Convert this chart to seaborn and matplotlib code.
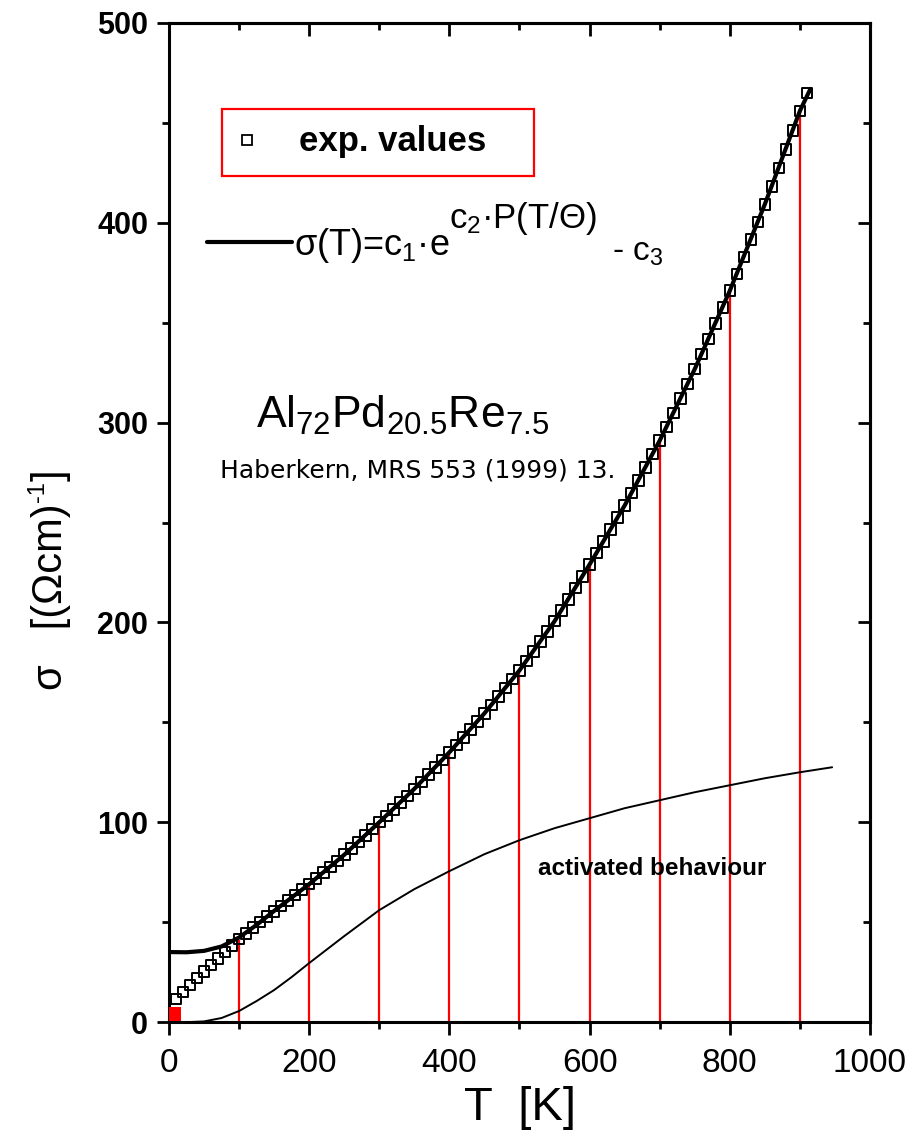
import numpy as np
import pandas as pd
import matplotlib
matplotlib.use("Agg")
import matplotlib.pyplot as plt
import seaborn as sns
from matplotlib.ticker import MultipleLocator
from matplotlib.patches import Rectangle
from matplotlib.lines import Line2D

# ---------------- data ----------------
T_exp = np.arange(10, 920, 10)
sigma_exp = [
    11.5, 15.0, 18.5, 22.0, 25.3, 28.6, 31.8, 35.0, 38.2, 41.5,
    44.4, 47.2, 50.0, 52.7, 55.4, 58.1, 60.8, 63.5, 66.2, 69.0,
    71.8, 74.7, 77.6, 80.6, 83.7, 86.8, 90.0, 93.3, 96.6, 100.0,
    103.2, 106.5, 109.8, 113.2, 116.7, 120.2, 123.8, 127.5, 131.2, 135.0,
    138.7, 142.5, 146.4, 150.4, 154.5, 158.7, 162.9, 167.2, 171.6, 176.0,
    180.6, 185.4, 190.3, 195.4, 200.6, 206.0, 211.6, 217.3, 223.1, 229.0,
    234.7, 240.5, 246.4, 252.4, 258.5, 264.7, 271.0, 277.5, 284.2, 291.0,
    297.9, 304.9, 312.1, 319.4, 326.8, 334.3, 341.9, 349.7, 357.7, 366.0,
    374.4, 382.9, 391.6, 400.4, 409.3, 418.3, 427.4, 436.7, 446.2, 456.0,
    465.0,
]

T_fit = [0, 25, 50, 75, 100, 125, 150, 200, 250, 300, 350, 400, 450, 500,
         550, 600, 650, 700, 750, 800, 850, 900, 915]
sigma_fit = [35.0, 34.9, 35.6, 37.8, 42.3, 48.6, 55.6, 69.0, 83.7, 100.0,
             116.7, 135.0, 154.5, 176.0, 200.6, 229.0, 258.5, 291.0, 326.8,
             366.0, 409.3, 456.0, 467.0]

T_act = [30, 50, 75, 100, 125, 150, 175, 200, 250, 300, 350, 400, 450, 500,
         550, 600, 650, 700, 750, 800, 850, 900, 946]
sigma_act = [0.0, 0.3, 2.0, 5.5, 10.5, 16.0, 22.5, 29.5, 43.0, 56.0, 66.5,
             75.5, 84.0, 91.0, 97.0, 102.0, 107.0, 111.0, 115.0, 118.5,
             122.0, 125.0, 127.5]

red_T = [100, 200, 300, 400, 500, 600, 700, 800, 900]
red_top = [41, 69, 100, 135, 176, 229, 291, 366, 456]

red_pt_T = [7]
red_pt_sigma = [4]

x_ticks = [0, 200, 400, 600, 800, 1000]
y_ticks = [0, 100, 200, 300, 400, 500]

# ---------------- style ----------------
sns.set_theme(style="ticks")
plt.rcParams["font.family"] = ["Liberation Sans", "DejaVu Sans"]
plt.rcParams["mathtext.fontset"] = "custom"
plt.rcParams["mathtext.rm"] = "Liberation Sans"
plt.rcParams["mathtext.it"] = "Liberation Sans"
plt.rcParams["mathtext.bf"] = "Liberation Sans:bold"
for key in ["text.color", "axes.labelcolor", "xtick.color", "ytick.color",
            "axes.edgecolor"]:
    plt.rcParams[key] = "black"

W, H = 912, 1137
fig = plt.figure(figsize=(W / 100, H / 100), dpi=100)
fig.patch.set_facecolor("white")

def fx(px):
    return px / W

def fy(py):
    return 1 - py / H

ax = fig.add_axes([fx(169), fy(1022), fx(870) - fx(169), fy(23) - fy(1022)])
ax.set_facecolor("white")

df_exp = pd.DataFrame({"T": T_exp, "sigma": sigma_exp})
df_fit = pd.DataFrame({"T": T_fit, "sigma": sigma_fit})
df_act = pd.DataFrame({"T": T_act, "sigma": sigma_act})

ax.vlines(red_T, 0, red_top, colors="#ff0000", linewidth=1.6, zorder=1)

sns.lineplot(data=df_act, x="T", y="sigma", ax=ax, color="black",
             linewidth=1.4, zorder=2, sort=False)
sns.scatterplot(data=df_exp, x="T", y="sigma", ax=ax, marker="s", s=58,
                facecolor="none", edgecolor="black", linewidth=1.4, zorder=3)
sns.lineplot(data=df_fit, x="T", y="sigma", ax=ax, color="black",
             linewidth=3.0, zorder=4, sort=False)
ax.scatter(red_pt_T, red_pt_sigma, marker="s", s=90, color="#ff0000",
           zorder=5, linewidths=0)

ax.set_xlim(0, 1000)
ax.set_ylim(0, 500)
ax.set_xticks(x_ticks)
ax.set_yticks(y_ticks)
ax.xaxis.set_minor_locator(MultipleLocator(100))
ax.yaxis.set_minor_locator(MultipleLocator(50))
ax.set_xlabel("")
ax.set_ylabel("")

for sp in ax.spines.values():
    sp.set_visible(True)
    sp.set_linewidth(2.2)
    sp.set_color("black")

ax.tick_params(axis="both", which="major", direction="out", length=9,
               width=2.0, color="black")
ax.tick_params(axis="both", which="minor", direction="out", length=5,
               width=2.0, color="black")
ax.tick_params(axis="y", which="major", labelsize=22, pad=6)
ax.tick_params(axis="x", which="major", labelsize=24, pad=10)
for lab in ax.get_yticklabels():
    lab.set_fontweight("bold")

secx = ax.secondary_xaxis("top")
secx.set_xticks(x_ticks)
secx.xaxis.set_minor_locator(MultipleLocator(100))
secx.tick_params(axis="x", which="major", direction="in", length=9, width=2.0,
                 labeltop=False)
secx.tick_params(axis="x", which="minor", direction="in", length=5, width=2.0)
secx.spines["top"].set_linewidth(2.2)

secy = ax.secondary_yaxis("right")
secy.set_yticks(y_ticks)
secy.yaxis.set_minor_locator(MultipleLocator(50))
secy.tick_params(axis="y", which="major", direction="in", length=9, width=2.0,
                 labelright=False)
secy.tick_params(axis="y", which="minor", direction="in", length=5, width=2.0)
secy.spines["right"].set_linewidth(2.2)

# x-axis label
fig.text(fx(520), fy(1108), "T  [K]", fontsize=34, ha="center", va="center")

# y-axis label, built in pieces so the superscript stays small
ylab = fig.text(fx(62), fy(690), "σ   [(Ωcm)", fontsize=30, rotation=90,
                rotation_mode="anchor", ha="left", va="baseline")
fig.canvas.draw()
bb = ylab.get_window_extent(renderer=fig.canvas.get_renderer())
end_px = bb.y1  # display coords (origin bottom-left)
sup = fig.text(fx(44), (end_px + 1) / H, "-1", fontsize=17, rotation=90,
               rotation_mode="anchor", ha="left", va="baseline")
fig.canvas.draw()
bb2 = sup.get_window_extent(renderer=fig.canvas.get_renderer())
fig.text(fx(62), (bb2.y1 + 1) / H, "]", fontsize=30, rotation=90,
         rotation_mode="anchor", ha="left", va="baseline")

# legend box (red frame)
fig.add_artist(Rectangle((fx(222), fy(176)), fx(534) - fx(222), fy(109) - fy(176),
                         transform=fig.transFigure, fill=False,
                         edgecolor="#ff0000", linewidth=1.6))
fig.add_artist(Line2D([fx(247)], [fy(140)], marker="s", markersize=7,
                      markerfacecolor="none", markeredgecolor="black",
                      markeredgewidth=1.3, transform=fig.transFigure))
fig.text(fx(299), fy(141), "exp. values", fontsize=25, fontweight="bold",
         ha="left", va="center")

# formula legend entry
fig.add_artist(Line2D([fx(207), fx(292)], [fy(242), fy(242)], color="black",
                      linewidth=3.0, transform=fig.transFigure))
fig.text(fx(294), fy(255), r"σ(T)=c$_\mathregular{1}$·e", fontsize=26,
         ha="left", va="baseline")
fig.text(fx(449), fy(228), r"c$_\mathregular{2}$·P(T/Θ)", fontsize=25,
         ha="left", va="baseline")
fig.text(fx(612), fy(261), r"- c$_\mathregular{3}$", fontsize=24,
         ha="left", va="baseline")

# compound + reference
fig.text(fx(256), fy(428), r"$\mathregular{Al_{72}Pd_{20.5}Re_{7.5}}$",
         fontsize=32, ha="left", va="baseline")
fig.text(fx(220), fy(470), "Haberkern, MRS 553 (1999) 13.", fontsize=18,
         family=["DejaVu Sans"], ha="left", va="center")

ax.text(527, 77, "activated behaviour", fontsize=17.5, fontweight="bold",
        ha="left", va="center")

fig.savefig("out.png", dpi=100, facecolor="white")
